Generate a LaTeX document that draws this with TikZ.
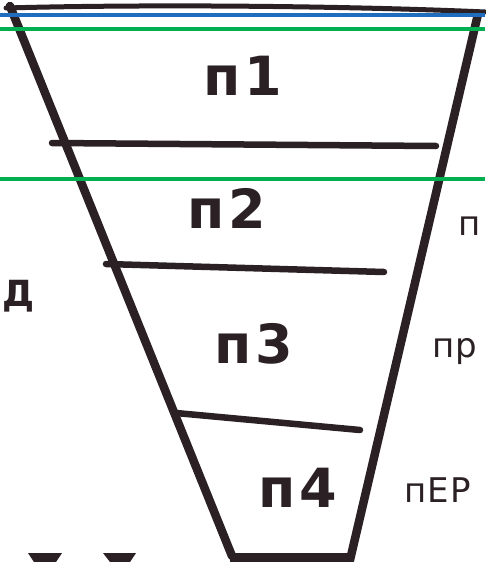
\documentclass[tikz,border=0pt]{standalone}
\usepackage{fontspec}
\setmainfont{DejaVu Sans}
\begin{document}
\begin{tikzpicture}[x=1pt,y=-1pt,
  brush/.style={draw=ink,line width=8.5pt,line cap=round,line join=round},
  shelf/.style={draw=ink,line width=6.5pt,line cap=round},
  biglabel/.style={font=\fontsize{54}{54}\selectfont\bfseries\addfontfeature{LetterSpace=8},text=ink,inner sep=0pt},
  sidelabel/.style={font=\fontsize{34}{34}\selectfont\addfontfeature{LetterSpace=4},text=ink,inner sep=0pt,anchor=west},
  guide/.style={line width=3.5pt}]
\definecolor{ink}{HTML}{2B2124}
\definecolor{guideblue}{HTML}{1F6DBF}
\definecolor{guidegreen}{HTML}{00B050}
\useasboundingbox (0,0) rectangle (485,562);
\fill[white] (0,0) rectangle (485,562);
% funnel outline
\draw[brush] (10,6) -- (232,556);
\draw[brush] (478,14) -- (350,560);
\draw[draw=ink,line width=5pt,line cap=round] (6,8) .. controls (150,4) and (350,6) .. (485,12);
% shelves
\draw[shelf] (52,143) -- (436,146);
\draw[shelf] (106,264) -- (384,272);
\draw[shelf] (176,413) -- (360,430);
\draw[draw=ink,line width=9pt] (230,557) -- (350,557);
% labels
\node[biglabel] (p1) at (243,76) {п1};
\node[biglabel] (p2) at (227,208) {п2};
\node[biglabel] (p3) at (254,344) {п3};
\node[biglabel] (p4) at (298,488) {п4};
\node[sidelabel] (r1) at (458,226) {п};
\node[sidelabel] (r2) at (432,352) {пр};
\node[sidelabel] (r3) at (404,490) {пЕР};
\node[sidelabel,font=\fontsize{36}{36}\selectfont\bfseries] (l1) at (2,296) {Д};
% bottom-left marks
\fill[ink] (28,553) -- (62,553) -- (56,562) -- (34,562) -- cycle;
\fill[ink] (103,553) -- (136,553) -- (130,562) -- (110,562) -- cycle;
% guide lines
\draw[guide,guideblue] (0,15) -- (485,15);
\draw[guide,guidegreen] (0,29) -- (485,29);
\draw[guide,guidegreen] (0,179) -- (485,179);
\end{tikzpicture}
\end{document}
